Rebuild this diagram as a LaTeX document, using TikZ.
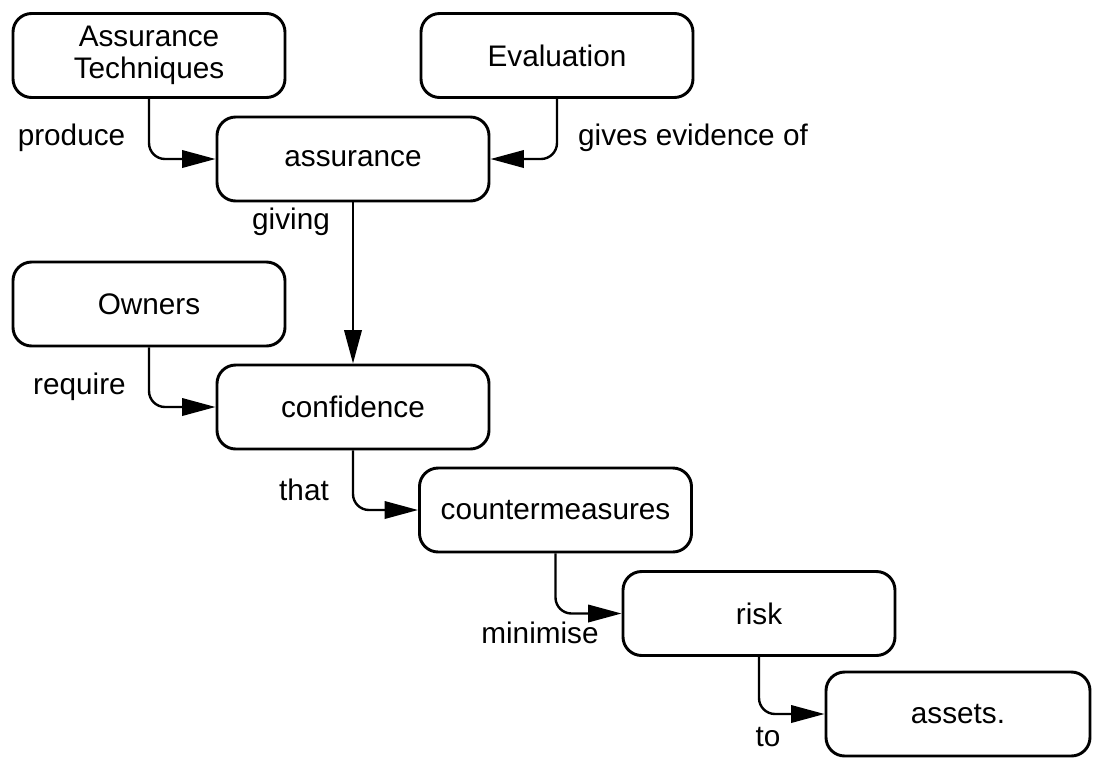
\documentclass[tikz,border=0pt]{standalone}
\usepackage{fontspec}
\setmainfont{Liberation Sans}
\usetikzlibrary{arrows.meta}
\begin{document}
\begin{tikzpicture}[x=0.75pt,y=-0.75pt,
  txt/.style={font=\fontsize{22.3pt}{24pt}\selectfont},
  box/.style={txt, draw, line width=2.2pt, rounded corners=14pt, minimum width=204pt, minimum height=63pt, align=center, inner sep=0pt},
  lbl/.style={txt, inner sep=0pt},
  conn/.style={line width=1.8pt, rounded corners=12pt, -{Triangle[length=25pt,width=13pt]}}]
\useasboundingbox (0,0) rectangle (1093,758);
\node[box] (at) at (149,55.5) {Assurance\\Techniques};
\node[box] (eval) at (557,55.5) {Evaluation};
\node[box] (assurance) at (353,159) {assurance};
\node[box] (owners) at (149,304) {Owners};
\node[box] (confidence) at (353,407) {confidence};
\node[box] (cm) at (555.5,510) {countermeasures};
\node[box] (risk) at (759,613.5) {risk};
\node[box, minimum width=198pt] (assets) at (958,714) {assets.};
\draw[conn] (at.south) |- (assurance.west);
\draw[conn] (eval.south) |- (assurance.east);
\draw[conn] (assurance.south) -- (confidence.north);
\draw[conn] (owners.south) |- (confidence.west);
\draw[conn] (confidence.south) |- (cm.west);
\draw[conn] (cm.south) |- (risk.west);
\draw[conn] (risk.south) |- (assets.west);
\node[lbl] (l1) at (71.5,138) {produce};
\node[lbl] (l2) at (693,138) {gives evidence of};
\node[lbl] (l3) at (291,222) {giving};
\node[lbl] (l4) at (79.5,387) {require};
\node[lbl] (l5) at (304,490) {that};
\node[lbl] (l6) at (540,633) {minimise};
\node[lbl] (l7) at (768,737) {to};
\end{tikzpicture}
\end{document}
